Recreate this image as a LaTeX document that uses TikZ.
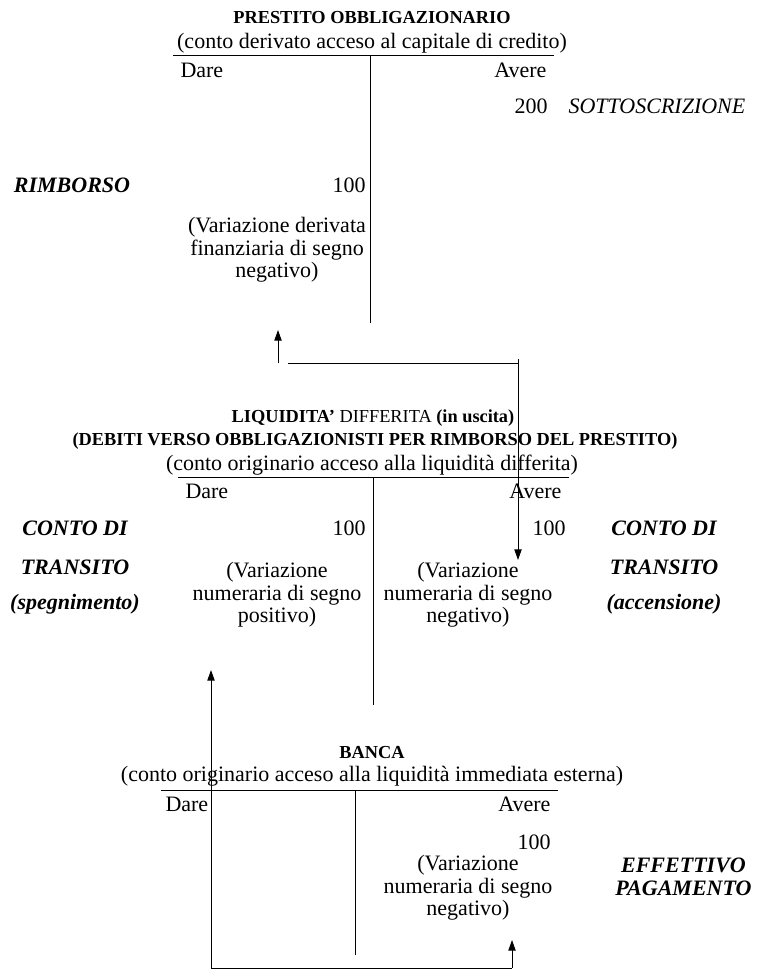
\documentclass[tikz,border=0pt]{standalone}
\usepackage{fontspec}
\setmainfont{Liberation Serif}
\usetikzlibrary{arrows.meta,positioning,calc}
\tikzset{every picture/.style={line width=0.75pt}}
\tikzset{
  txt/.style={inner sep=0pt, align=center, font=\fontsize{16.5}{16.9}\selectfont},
  head/.style={txt, font=\fontsize{13.75}{16.9}\selectfont\bfseries},
  caus/.style={txt, font=\fontsize{16.5}{16.9}\selectfont\bfseries\itshape},
  flow/.style={-{Triangle[width=5.5pt,length=8pt]}},
}

\begin{document}
\begin{tikzpicture}[x=0.75pt,y=-0.75pt]
    \useasboundingbox (0,0) rectangle (756,973);
    % prestito obbligazionario
    \node[head] (po) at (372,18) {PRESTITO OBBLIGAZIONARIO};
    \node[txt] (posub) at (372,43) {(conto derivato acceso al capitale di credito)};
    \coordinate (pol) at (173,56);
    \coordinate (por) at (554,56);
    \coordinate (pot) at (370,56);
    \coordinate (pob) at (370,323);
    \draw (pol) -- (por);
    \draw (pot) -- (pob);
    \node[txt, anchor=west] (podare) at (180,70) {Dare};
    \node[txt, anchor=east] (poavere) at (547,70) {Avere};
    \node[txt, anchor=east] (po200) at (548,106) {200};
    \node[txt, font=\fontsize{16.5}{16.9}\selectfont\itshape, anchor=west] (posott) at (568,106) {SOTTOSCRIZIONE};
    \node[caus] (porimb) at (72,185) {RIMBORSO};
    \node[txt, anchor=east] (po100) at (366,185) {100};
    \node[txt] (povar) at (277,250) {(Variazione derivata\\finanziaria di segno\\negativo)};
    % liquidita' differita
    \node[head, font=\fontsize{13.75}{16.9}\selectfont] (ld) at (373,418) {\textbf{LIQUIDITA’} DIFFERITA \textbf{(in uscita)}};
    \node[head] (ldsub) at (375,441) {(DEBITI VERSO OBBLIGAZIONISTI PER RIMBORSO DEL PRESTITO)};
    \node[txt] (ldsub2) at (372,465) {(conto originario acceso alla liquidità differita)};
    \coordinate (ldl) at (178,477);
    \coordinate (ldr) at (569,477);
    \coordinate (ldt) at (373,477);
    \coordinate (ldb) at (373,705);
    \draw (ldl) -- (ldr);
    \draw (ldt) -- (ldb);
    \node[txt, anchor=west] (lddare) at (185,491) {Dare};
    \node[txt, anchor=east] (ldavere) at (562,491) {Avere};
    \node[txt, anchor=east] (ld100a) at (366,528) {100};
    \node[txt, anchor=east] (ld100b) at (566,528) {100};
    \node[caus] (ldcd1) at (75,528) {CONTO DI};
    \node[caus] (ldtr1) at (75,567) {TRANSITO};
    \node[caus] (ldsp) at (75,604) {(spegnimento)};
    \node[caus] (ldcd2) at (664,528) {CONTO DI};
    \node[caus] (ldtr2) at (664,567) {TRANSITO};
    \node[caus] (ldacc) at (664,604) {(accensione)};
    \node[txt] (ldvar1) at (277,595) {(Variazione\\numeraria di segno\\positivo)};
    \node[txt] (ldvar2) at (468,595) {(Variazione\\numeraria di segno\\negativo)};
    % banca
    \node[head] (bc) at (372,753) {BANCA};
    \node[txt] (bcsub) at (372,776) {(conto originario acceso alla liquidità immediata esterna)};
    \coordinate (bcl) at (161,790);
    \coordinate (bcr) at (558,790);
    \coordinate (bct) at (355,790);
    \coordinate (bcb) at (355,955);
    \draw (bcl) -- (bcr);
    \draw (bct) -- (bcb);
    \node[txt, anchor=west] (bcdare) at (165,804) {Dare};
    \node[txt, anchor=east] (bcavere) at (551,804) {Avere};
    \node[txt, anchor=east] (bc100) at (551,842) {100};
    \node[txt] (bcvar) at (468,888) {(Variazione\\numeraria di segno\\negativo)};
    \node[caus, anchor=east] (bceff) at (752,877) {EFFETTIVO\\PAGAMENTO};
    % flussi
    \coordinate (r1) at (278,363);
    \coordinate (r2) at (278,330);
    \coordinate (s1) at (288,363);
    \coordinate (s2) at (518,363);
    \coordinate (s3) at (518,359);
    \coordinate (s4) at (518,560);
    \draw[flow] (r1) -- (r2);
    \draw (s1) -- (s2);
    \draw[flow] (s3) -- (s4);
    \coordinate (p1) at (211,968);
    \coordinate (p2) at (211,670);
    \coordinate (p3) at (512,968);
    \coordinate (p4) at (512,940);
    \draw[flow] (p1) -- (p2);
    \draw (p1) -- (p3);
    \draw[flow] (p3) -- (p4);
\end{tikzpicture}
\end{document}
